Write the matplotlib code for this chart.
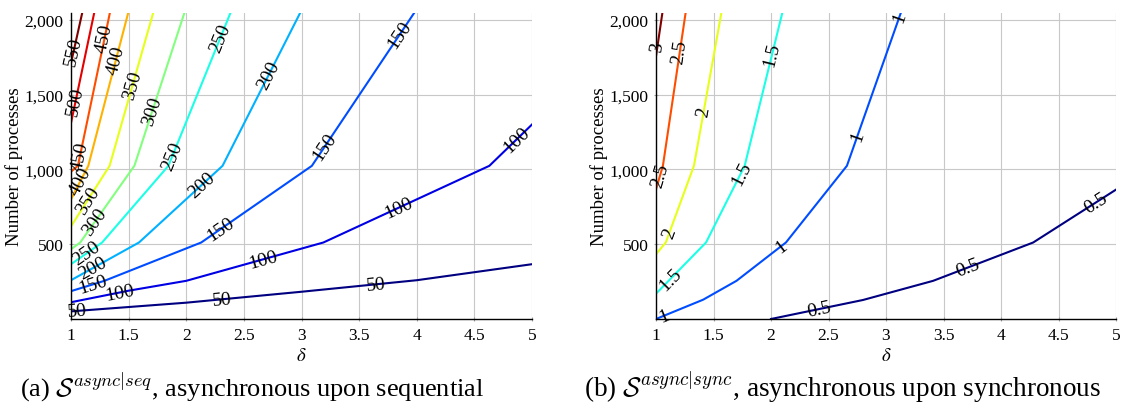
import numpy as np
import matplotlib
matplotlib.use("Agg")
import matplotlib.pyplot as plt
from matplotlib.colors import LinearSegmentedColormap
from matplotlib.ticker import FuncFormatter

# ---- data: contour lines (delta, number of processes) ----
seq_levels = [50, 100, 150, 200, 250, 300, 350, 400, 450, 500, 550]
seq_delta = [
    [1, 2, 3, 4, 5],                      # 50
    [1, 1.5, 2, 3.19, 4.63, 5.0],         # 100
    [1, 1.29, 2.13, 3.09, 3.98],          # 150
    [1, 1.59, 2.315, 2.99],               # 200
    [1, 1.27, 1.845, 2.385],              # 250
    [1, 1.08, 1.55, 1.985],               # 300
    [1, 1.335, 1.714],                    # 350
    [1, 1.15, 1.497],                     # 400
    [1, 1.06, 1.338],                     # 450
    [1, 1.202],                           # 500
    [1, 1.098],                           # 550
]
seq_procs = [
    [52, 110, 183, 260, 367],
    [113, 190, 256, 512, 1024, 1300],
    [187, 256, 512, 1024, 2048],
    [260, 512, 1024, 2048],
    [367, 512, 1024, 2048],
    [467, 512, 1024, 2048],
    [620, 1024, 2048],
    [800, 1024, 2048],
    [985, 1024, 2048],
    [1310, 2048],
    [1710, 2048],
]
# where the inline labels sit (number of processes along each line)
seq_label_at = [
    [55, 133, 233],
    [178, 400, 744, 1200],
    [233, 600, 1156, 1900],
    [340, 900, 1633],
    [440, 1089, 1878],
    [650, 1389],
    [795, 1567],
    [925, 1733],
    [1089, 1878],
    [1455],
    [1790],
]

sync_levels = [0.5, 1, 1.5, 2, 2.5, 3]
sync_delta = [
    [2.0, 2.8, 3.41, 4.28, 5.0],          # 0.5
    [1, 1.41, 1.70, 2.13, 2.66, 3.13],    # 1
    [1, 1.435, 1.771, 2.099],             # 1.5
    [1, 1.085, 1.33, 1.569],              # 2
    [1, 1.06, 1.258],                     # 2.5
    [1, 1.056],                           # 3
]
sync_procs = [
    [1, 128, 256, 512, 865],
    [1, 130, 256, 512, 1024, 2048],
    [170, 512, 1024, 2048],
    [433, 512, 1024, 2048],
    [867, 1024, 2048],
    [1756, 2048],
]
sync_label_at = [
    [67, 345, 778],
    [22, 489, 1222, 2022],
    [267, 978, 1767],
    [578, 1389],
    [960, 1789],
    [1822],
]

# pgfplots' jet colormap
pgf_jet = LinearSegmentedColormap.from_list("pgfjet", [
    (0.0, (0, 0, 128 / 255)),
    (1 / 8, (0, 0, 1)),
    (3 / 8, (0, 1, 1)),
    (5 / 8, (1, 1, 0)),
    (7 / 8, (1, 0, 0)),
    (1.0, (128 / 255, 0, 0)),
])

plt.rcParams["font.family"] = "serif"
plt.rcParams["font.serif"] = ["Liberation Serif", "DejaVu Serif"]
plt.rcParams["mathtext.fontset"] = "stix"

W, H = 1124, 414
fig = plt.figure(figsize=(W / 100, H / 100), dpi=100)


def draw_panel(ax, levels, deltas, procs, label_at):
    ax.set_xlim(1, 5)
    ax.set_ylim(1, 2048)
    ax.set_xticks(np.arange(1, 5.01, 0.5))
    ax.set_yticks([500, 1000, 1500, 2000])
    ax.xaxis.set_major_formatter(FuncFormatter(lambda v, p: f"{v:g}"))
    ax.yaxis.set_major_formatter(FuncFormatter(lambda v, p: f"{int(v):,}"))
    ax.grid(True, color="#c8c8c8", linewidth=0.8)
    ax.set_axisbelow(True)
    for s in ["top", "right"]:
        ax.spines[s].set_visible(False)
    for s in ["left", "bottom"]:
        ax.spines[s].set_linewidth(1.0)
    ax.tick_params(length=3, direction="inout", color="#a0a0a0", labelsize=12.5, pad=4)
    ax.set_ylabel("Number of processes", fontsize=13.5, labelpad=1)
    ax.set_xlabel(r"$\delta$", fontsize=13.5, labelpad=3)

    lo, hi = min(levels), max(levels)
    for lev, xs, ys, labs in zip(levels, deltas, procs, label_at):
        c = pgf_jet((lev - lo) / (hi - lo))
        ax.plot(xs, ys, color=c, linewidth=1.5, solid_joinstyle="miter")
        pts = ax.transData.transform(np.column_stack([xs, ys]))
        for n in labs:
            x = np.interp(n, ys, xs)
            i = int(np.clip(np.searchsorted(ys, n) - 1, 0, len(xs) - 2))
            dx, dy = pts[i + 1] - pts[i]
            ang = np.degrees(np.arctan2(dy, dx))
            if ang > 90:
                ang -= 180
            ax.text(x, n, f"{lev:g}", fontsize=14, rotation=ang,
                    rotation_mode="anchor", ha="center", va="center",
                    color="black", zorder=5)


ax1 = fig.add_axes([71 / W, 1 - 320 / H, 461 / W, 306.5 / H])
ax2 = fig.add_axes([656 / W, 1 - 320 / H, 460 / W, 306.5 / H])
draw_panel(ax1, seq_levels, seq_delta, seq_procs, seq_label_at)
draw_panel(ax2, sync_levels, sync_delta, sync_procs, sync_label_at)

fig.text(20 / W, 1 - 387 / H,
         r"(a) $\mathcal{S}^{async|seq}$, asynchronous upon sequential",
         fontsize=19, va="center", ha="left", math_fontfamily="cm")
fig.text(584 / W, 1 - 387 / H,
         r"(b) $\mathcal{S}^{async|sync}$, asynchronous upon synchronous",
         fontsize=19.5, va="center", ha="left", math_fontfamily="cm")

fig.savefig("out.png", dpi=100)
